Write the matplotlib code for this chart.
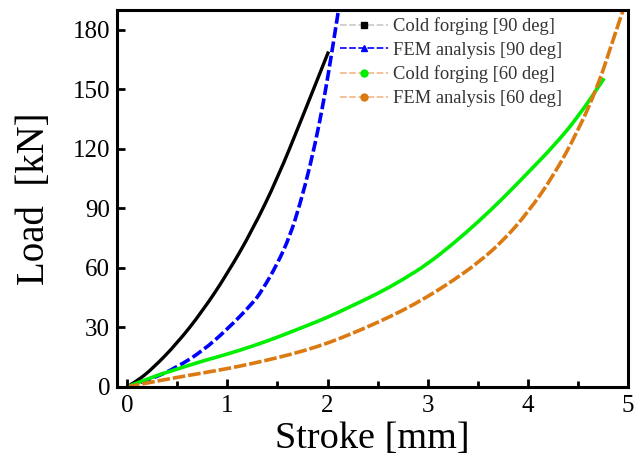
import matplotlib
matplotlib.use("Agg")
import matplotlib.pyplot as plt
from matplotlib.lines import Line2D
from matplotlib.path import Path
from matplotlib.patches import PathPatch
from matplotlib.ticker import MultipleLocator

plt.rcParams['font.family'] = ['Liberation Serif', 'DejaVu Serif']

# Cold forging, 90 deg
stroke_cf90 = [0.03, 0.1, 0.25, 0.5, 0.75, 1.0, 1.25, 1.5, 1.75, 2.01]
load_cf90 = [1, 3, 9, 22, 38, 57, 79, 105, 136, 169]

# FEM analysis, 90 deg
stroke_fem90 = [0, 0.25, 0.5, 0.75, 1.0, 1.25, 1.34, 1.5, 1.625, 1.725, 1.825, 1.925, 2.01, 2.11]
load_fem90 = [0, 4, 10, 18, 29, 42, 48, 62, 76, 92, 111, 134, 158, 190]

# Cold forging, 60 deg
stroke_cf60 = [0, 0.25, 0.5, 0.75, 1.0, 1.25, 1.5, 1.75, 2.0, 2.25, 2.5, 2.75,
               3.0, 3.25, 3.5, 3.75, 4.0, 4.25, 4.5, 4.76]
load_cf60 = [0, 5, 9, 13, 16.5, 20.5, 25, 30, 35, 41, 47, 54,
             62, 72, 83, 95, 108, 121, 136, 155.5]

# FEM analysis, 60 deg
stroke_fem60 = [0, 0.25, 0.5, 0.75, 1.0, 1.25, 1.5, 1.75, 2.0, 2.25, 2.5, 2.75,
                3.0, 3.25, 3.5, 3.75, 4.0, 4.25, 4.5, 4.7, 4.83, 4.95]
load_fem60 = [0, 2.5, 4.8, 7, 9.2, 11.8, 14.7, 18, 22, 27, 32.5, 38.5,
              45.5, 53.5, 62.5, 73.5, 88, 106, 129, 152, 172, 190]

labels = ['Cold forging [90 deg]', 'FEM analysis [90 deg]',
          'Cold forging [60 deg]', 'FEM analysis [60 deg]']


def smooth_curve(ax, xs, ys, **kw):
    """quadratic bezier through midpoints, so the measured points give a smooth line"""
    pts = list(zip(xs, ys))
    verts = [pts[0]]
    codes = [Path.MOVETO]
    for i in range(1, len(pts) - 1):
        mid = ((pts[i][0] + pts[i + 1][0]) / 2., (pts[i][1] + pts[i + 1][1]) / 2.)
        verts += [pts[i], mid]
        codes += [Path.CURVE3, Path.CURVE3]
    verts.append(pts[-1])
    codes.append(Path.LINETO)
    patch = PathPatch(Path(verts, codes), fill=False, capstyle='butt', **kw)
    ax.add_patch(patch)
    return patch


fig = plt.figure(figsize=(6.43, 4.69), dpi=100)
ax = fig.add_axes([0.182, 0.175, 0.795, 0.804])

orange = '#dc7a12'
green = '#00ee00'
blue = '#0000ff'
smooth_curve(ax, stroke_cf90, load_cf90, edgecolor='black', lw=2.4)
smooth_curve(ax, stroke_fem90, load_fem90, edgecolor=blue, lw=2.6, ls=(0, (3, 1.0)))
smooth_curve(ax, stroke_cf60, load_cf60, edgecolor=green, lw=2.6)
smooth_curve(ax, stroke_fem60, load_fem60, edgecolor=orange, lw=2.6, ls=(0, (3.5, 0.8)))

# legend handles: thin lines in light colors, marker in the middle
handles = [
    Line2D([], [], color='#c8c8c8', lw=1.2, ls=(0, (4, 1.5)), marker='s', ms=4,
           mfc='black', mec='black'),
    Line2D([], [], color=blue, lw=1.2, ls=(0, (4, 1.5)), marker='^', ms=5,
           mfc=blue, mec=blue),
    Line2D([], [], color='#f4b888', lw=1.2, ls=(0, (4, 1.5)), marker='o', ms=5,
           mfc=green, mec=green),
    Line2D([], [], color='#f4b888', lw=1.2, ls=(0, (4, 1.5)), marker='o', ms=5,
           mfc=orange, mec=orange),
]
ax.legend(handles, labels, loc='upper left', bbox_to_anchor=(0.436, 0.980),
          frameon=False, fontsize=13.3, handlelength=2.6, handletextpad=0.3,
          borderpad=0, borderaxespad=0, labelspacing=0.36, labelcolor='#333333')

ax.set_xlim(-0.1, 5)
ax.set_ylim(0, 190)
ax.set_xticks([0, 1, 2, 3, 4, 5])
ax.xaxis.set_minor_locator(MultipleLocator(0.5))
ax.set_yticks([0, 30, 60, 90, 120, 150, 180])

for s in ax.spines.values():
    s.set_linewidth(2.2)
ax.tick_params(which='major', direction='in', length=6, width=2,
               labelsize=18, colors='black', pad=6)
ax.tick_params(which='minor', direction='in', length=4, width=2)
ax.tick_params(axis='y', which='both', right=False, pad=5)
ax.tick_params(axis='x', which='both', top=False)

ax.set_xlabel('Stroke [mm]', fontsize=27.5, labelpad=3)
ax.set_ylabel('Load  [kN]', fontsize=28, labelpad=14)

fig.savefig('out.png', dpi=100)
